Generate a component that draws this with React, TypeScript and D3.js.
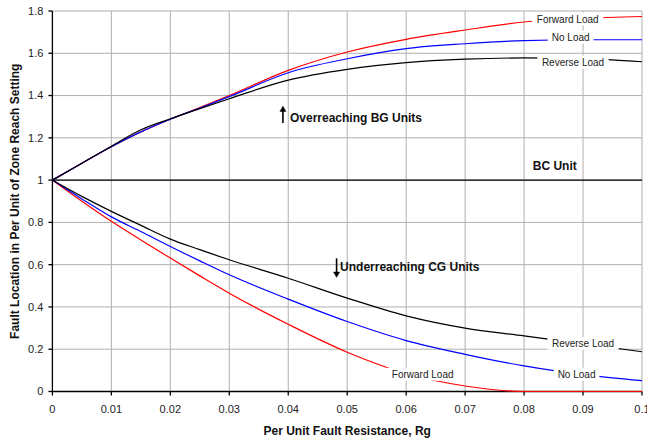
import React from "react";
import * as d3 from "d3";

// values
const rg = [0, 0.005, 0.01, 0.015, 0.02, 0.025, 0.03, 0.04, 0.05, 0.06, 0.07, 0.08, 0.09, 0.1];

const bgForward = [1, 1.08, 1.158, 1.228, 1.288, 1.343, 1.4, 1.519, 1.606, 1.666, 1.71, 1.748, 1.765, 1.774];
const bgNoLoad = [1, 1.08, 1.158, 1.228, 1.288, 1.341, 1.395, 1.508, 1.574, 1.622, 1.645, 1.66, 1.664, 1.664];
const bgReverse = [1, 1.08, 1.16, 1.238, 1.29, 1.338, 1.385, 1.473, 1.524, 1.556, 1.572, 1.578, 1.575, 1.56];

const cgForward = [1, 0.9, 0.805, 0.717, 0.631, 0.547, 0.465, 0.318, 0.186, 0.085, 0.026, 0, 0, 0];
const cgNoLoad = [1, 0.911, 0.826, 0.757, 0.686, 0.618, 0.552, 0.437, 0.331, 0.241, 0.176, 0.121, 0.08, 0.051];
const cgReverse = [1, 0.923, 0.852, 0.786, 0.721, 0.671, 0.623, 0.536, 0.442, 0.358, 0.3, 0.263, 0.225, 0.188];

const bcRg = [0, 0.1];
const bcUnit = [1, 1];

const xTicks = [0, 0.01, 0.02, 0.03, 0.04, 0.05, 0.06, 0.07, 0.08, 0.09, 0.1];
const yTicks = [0, 0.2, 0.4, 0.6, 0.8, 1, 1.2, 1.4, 1.6, 1.8];

const series = [
  { name: "bgForward", values: bgForward, color: "#ff0000" },
  { name: "bgNoLoad", values: bgNoLoad, color: "#0000ff" },
  { name: "bgReverse", values: bgReverse, color: "#000000" },
  { name: "cgForward", values: cgForward, color: "#ff0000" },
  { name: "cgNoLoad", values: cgNoLoad, color: "#0000ff" },
  { name: "cgReverse", values: cgReverse, color: "#000000" },
];

// data labels (placed in data units)
const lineLabels = [
  { text: "Forward Load", x: 0.0874, y: 1.762 },
  { text: "No Load", x: 0.0879, y: 1.677 },
  { text: "Reverse Load", x: 0.0883, y: 1.558 },
  { text: "Reverse Load", x: 0.09, y: 0.228 },
  { text: "No Load", x: 0.0889, y: 0.082 },
  { text: "Forward Load", x: 0.0628, y: 0.082 },
];

const W = 647;
const H = 439;
const FONT = "'Liberation Sans', Arial, sans-serif";

export default function App() {
  const x = d3.scaleLinear().domain([0, 0.1]).range([52.4, 642]);
  const y = d3.scaleLinear().domain([0, 1.8]).range([391.5, 11]);

  const line = d3
    .line<[number, number]>()
    .x((d) => x(d[0]))
    .y((d) => y(d[1]))
    .curve(d3.curveMonotoneX);

  const straight = d3
    .line<[number, number]>()
    .x((d) => x(d[0]))
    .y((d) => y(d[1]));

  const [x0, x1] = x.range();
  const [y0, y1] = y.range();

  return (
    <svg
      width={W}
      height={H}
      style={{ position: "absolute", left: 0, top: 0, background: "#fff" }}
      fontFamily={FONT}
    >
      {/* grid */}
      <g stroke="#b0b0b0" strokeWidth={1}>
        {xTicks.slice(1).map((t) => (
          <line key={"gx" + t} x1={x(t)} x2={x(t)} y1={y0} y2={y1} />
        ))}
        {yTicks.slice(1).map((t) => (
          <line key={"gy" + t} x1={x0} x2={x1} y1={y(t)} y2={y(t)} />
        ))}
      </g>

      {/* axes */}
      <g stroke="#000" strokeWidth={1.3}>
        <line x1={x0} x2={x0} y1={y0 + 0.5} y2={y1} />
        <line x1={x0} x2={x1} y1={y0} y2={y0} />
        {yTicks.map((t) => (
          <line key={"ty" + t} x1={x0 - 4} x2={x0} y1={y(t)} y2={y(t)} />
        ))}
        {xTicks.map((t) => (
          <line key={"tx" + t} x1={x(t)} x2={x(t)} y1={y0} y2={y0 + 4} />
        ))}
      </g>

      <g fontSize={11} fill="#222">
        {yTicks.map((t) => (
          <text key={"ly" + t} x={x0 - 9} y={y(t)} dy="0.35em" textAnchor="end">
            {String(t)}
          </text>
        ))}
        {xTicks.map((t) => (
          <text key={"lx" + t} x={x(t)} y={y0 + 18} dy="0.35em" textAnchor="middle">
            {String(t)}
          </text>
        ))}
      </g>

      {/* BC unit */}
      <path
        d={straight(bcRg.map((r, i) => [r, bcUnit[i]]) as [number, number][]) || ""}
        fill="none"
        stroke="#000"
        strokeWidth={1.3}
      />

      {series.map((s) => (
        <path
          key={s.name}
          d={line(rg.map((r, i) => [r, s.values[i]]) as [number, number][]) || ""}
          fill="none"
          stroke={s.color}
          strokeWidth={1.2}
        />
      ))}

      {/* line labels with white boxes */}
      <g fontSize={10} fill="#222">
        {lineLabels.map((l, i) => {
          const w = l.text.length * 5.1 + 10;
          return (
            <g key={"ll" + i} transform={`translate(${x(l.x)},${y(l.y)})`}>
              <rect x={-w / 2} y={-6.5} width={w} height={13} fill="#fff" />
              <text textAnchor="middle" dy="0.35em">
                {l.text}
              </text>
            </g>
          );
        })}
      </g>

      {/* annotations */}
      <g fontSize={12} fontWeight="bold" fill="#111">
        <text x={x(0.0403)} y={y(1.295)} dy="0.35em">
          Overreaching BG Units
        </text>
        <text x={x(0.0488)} y={y(0.592)} dy="0.35em">
          Underreaching CG Units
        </text>
        <text x={x(0.0852)} y={y(1.069)} dy="0.35em" textAnchor="middle">
          BC Unit
        </text>
        <text x={(x0 + x1) / 2} y={431} dy="0.35em" textAnchor="middle">
          Per Unit Fault Resistance, Rg
        </text>
        <text
          transform={`translate(15,${(y0 + y1) / 2}) rotate(-90)`}
          dy="0.35em"
          textAnchor="middle"
        >
          Fault Location in Per Unit of Zone Reach Setting
        </text>
      </g>

      {/* arrows */}
      <g stroke="#000" strokeWidth={1.6} fill="#000">
        <line x1={x(0.0391)} x2={x(0.0391)} y1={y(1.27)} y2={y(1.33)} />
        <path
          d={`M${x(0.0391) - 3},${y(1.325)} L${x(0.0391)},${y(1.35)} L${x(0.0391) + 3},${y(1.325)} Z`}
          strokeWidth={0.5}
        />
        <line x1={x(0.0482)} x2={x(0.0482)} y1={y(0.63)} y2={y(0.56)} />
        <path
          d={`M${x(0.0482) - 3},${y(0.565)} L${x(0.0482)},${y(0.54)} L${x(0.0482) + 3},${y(0.565)} Z`}
          strokeWidth={0.5}
        />
      </g>
    </svg>
  );
}
